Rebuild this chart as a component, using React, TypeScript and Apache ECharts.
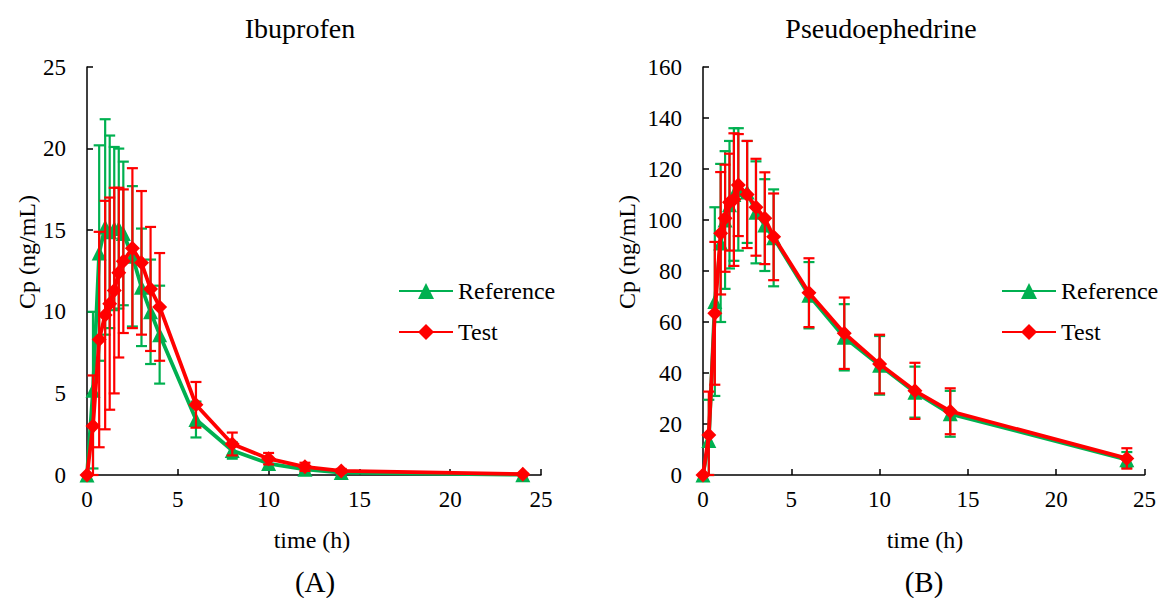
import React, { useEffect, useRef } from "react";
import * as echarts from "echarts";

const times = [0, 0.33, 0.67, 1, 1.25, 1.5, 1.75, 2, 2.5, 3, 3.5, 4, 6, 8, 10, 12, 14, 24];

const ibuRef = [0, 5.2, 13.6, 15.2, 14.9, 15.1, 15.1, 14.8, 13.4, 11.5, 10.0, 8.6, 3.4, 1.5, 0.7, 0.35, 0.15, 0.02];
const ibuRefSd = [0, 4.8, 6.6, 6.6, 5.9, 5.0, 4.9, 4.4, 4.3, 3.6, 3.2, 3.0, 1.1, 0.5, 0.3, 0.2, 0.1, 0.02];
const ibuTest = [0, 3.0, 8.3, 9.8, 10.5, 11.3, 12.4, 13.1, 13.9, 13.0, 11.4, 10.3, 4.3, 1.9, 1.0, 0.5, 0.25, 0.05];
const ibuTestSd = [0, 3.1, 6.6, 7.0, 6.5, 6.3, 5.2, 4.4, 4.9, 4.4, 3.8, 3.3, 1.4, 0.7, 0.35, 0.25, 0.12, 0.05];

const pseRef = [0, 13.5, 68, 91, 100, 106, 110, 112, 111, 103, 98, 93, 70.5, 54, 43, 32.5, 24, 6];
const pseRefSd = [0, 16, 37, 31, 27, 25, 26, 24, 20, 20, 18, 19, 13, 13, 11.5, 10, 9, 3];
const pseTest = [0, 15.7, 63.4, 94.8, 100.7, 107, 108, 113.7, 110, 105, 100.7, 93.4, 71.5, 55.6, 43.5, 33, 25, 6.5];
const pseTestSd = [0, 17, 28, 24, 21, 19, 26, 20, 21, 19, 18, 17, 13.5, 14, 11.5, 11, 9, 4];

const GREEN = "#00B050";
const RED = "#FF0000";
const FONT = '"Liberation Serif", "Times New Roman", serif';

function errRender(color: string) {
  return (params: any, api: any) => {
    const x = api.value(0);
    const y = api.value(1);
    const sd = api.value(2);
    if (!sd) return null;
    const top = api.coord([x, y + sd]);
    const bot = api.coord([x, Math.max(0, y - sd)]);
    const hw = 5.5;
    const style = { stroke: color, lineWidth: 2.2 };
    return {
      type: "group",
      children: [
        { type: "line", shape: { x1: top[0], y1: top[1], x2: bot[0], y2: bot[1] }, style },
        { type: "line", shape: { x1: top[0] - hw, y1: top[1], x2: top[0] + hw, y2: top[1] }, style },
        { type: "line", shape: { x1: bot[0] - hw, y1: bot[1], x2: bot[0] + hw, y2: bot[1] }, style },
      ],
    };
  };
}

function pairs(v: number[]) {
  return times.map((t, i) => [t, v[i]]);
}
function triples(v: number[], s: number[]) {
  return times.map((t, i) => [t, v[i], s[i]]);
}

function axisX(gridIndex: number) {
  return {
    type: "value",
    gridIndex,
    min: 0,
    max: 25,
    interval: 5,
    axisLine: { show: true, lineStyle: { color: "#000", width: 1.5 } },
    axisTick: { show: true, inside: true, length: 6, lineStyle: { color: "#000", width: 1.5 } },
    axisLabel: { color: "#000", fontFamily: FONT, fontSize: 23, margin: 13 },
    splitLine: { show: false },
  };
}
function axisY(gridIndex: number, max: number, interval: number) {
  return {
    type: "value",
    gridIndex,
    min: 0,
    max,
    interval,
    axisLine: { show: true, lineStyle: { color: "#000", width: 1.5 } },
    axisTick: { show: true, inside: true, length: 6, lineStyle: { color: "#000", width: 1.5 } },
    axisLabel: { color: "#000", fontFamily: FONT, fontSize: 23, margin: 21 },
    splitLine: { show: false },
  };
}

function lineSeries(name: string, data: number[], idx: number, color: string, symbol: string, size: number, z: number) {
  return {
    type: "line",
    name,
    xAxisIndex: idx,
    yAxisIndex: idx,
    data: pairs(data),
    symbol,
    symbolSize: size,
    lineStyle: { color, width: 3.8 },
    itemStyle: { color },
    z,
  };
}
function errSeries(data: number[], sd: number[], idx: number, color: string, z: number) {
  return {
    type: "custom",
    xAxisIndex: idx,
    yAxisIndex: idx,
    data: triples(data, sd),
    encode: { x: 0, y: 1 },
    renderItem: errRender(color),
    z,
  };
}

function txt(text: string, x: number, y: number, size: number, rotation = 0) {
  return {
    type: "text",
    x,
    y,
    rotation,
    style: {
      text,
      font: `${size}px ${FONT}`,
      fill: "#000",
      align: "center",
      verticalAlign: "middle",
      textAlign: "center",
      textVerticalAlign: "middle",
    },
  };
}

function legend(left: number) {
  return {
    data: ["Reference", "Test"],
    orient: "vertical",
    left,
    top: 279,
    padding: 0,
    itemWidth: 54,
    itemHeight: 20,
    itemGap: 17,
    textStyle: { color: "#000", fontFamily: FONT, fontSize: 24 },
  };
}

export default function App() {
  const ref = useRef<HTMLDivElement>(null);
  useEffect(() => {
    if (!ref.current) return;
    const chart = echarts.init(ref.current, undefined, { renderer: "svg" });
    chart.setOption({
      animation: false,
      backgroundColor: "#fff",
      grid: [
        { left: 87, top: 67, width: 454, height: 408 },
        { left: 703, top: 67, width: 442, height: 408 },
      ],
      xAxis: [axisX(0), axisX(1)],
      yAxis: [axisY(0, 25, 5), axisY(1, 160, 20)],
      legend: [legend(398), legend(1001)],
      series: [
        errSeries(ibuRef, ibuRefSd, 0, GREEN, 2),
        lineSeries("Reference", ibuRef, 0, GREEN, "triangle", 15, 3),
        errSeries(ibuTest, ibuTestSd, 0, RED, 4),
        lineSeries("Test", ibuTest, 0, RED, "diamond", 15, 5),
        errSeries(pseRef, pseRefSd, 1, GREEN, 2),
        lineSeries("Reference", pseRef, 1, GREEN, "triangle", 15, 3),
        errSeries(pseTest, pseTestSd, 1, RED, 4),
        lineSeries("Test", pseTest, 1, RED, "diamond", 15, 5),
      ],
      graphic: [
        txt("Ibuprofen", 300, 28, 28),
        txt("Pseudoephedrine", 881, 28, 28),
        txt("time (h)", 312, 540, 24),
        txt("time (h)", 925, 540, 24),
        txt("Cp (ng/mL)", 27, 252, 24, Math.PI / 2),
        txt("Cp (ng/mL)", 627, 252, 24, Math.PI / 2),
        txt("(A)", 315, 582, 29),
        txt("(B)", 924, 582, 29),
      ],
    });
    return () => chart.dispose();
  }, []);
  return (
    <div
      ref={ref}
      style={{ position: "fixed", left: 0, top: 0, width: 1159, height: 598, background: "#fff" }}
    />
  );
}
